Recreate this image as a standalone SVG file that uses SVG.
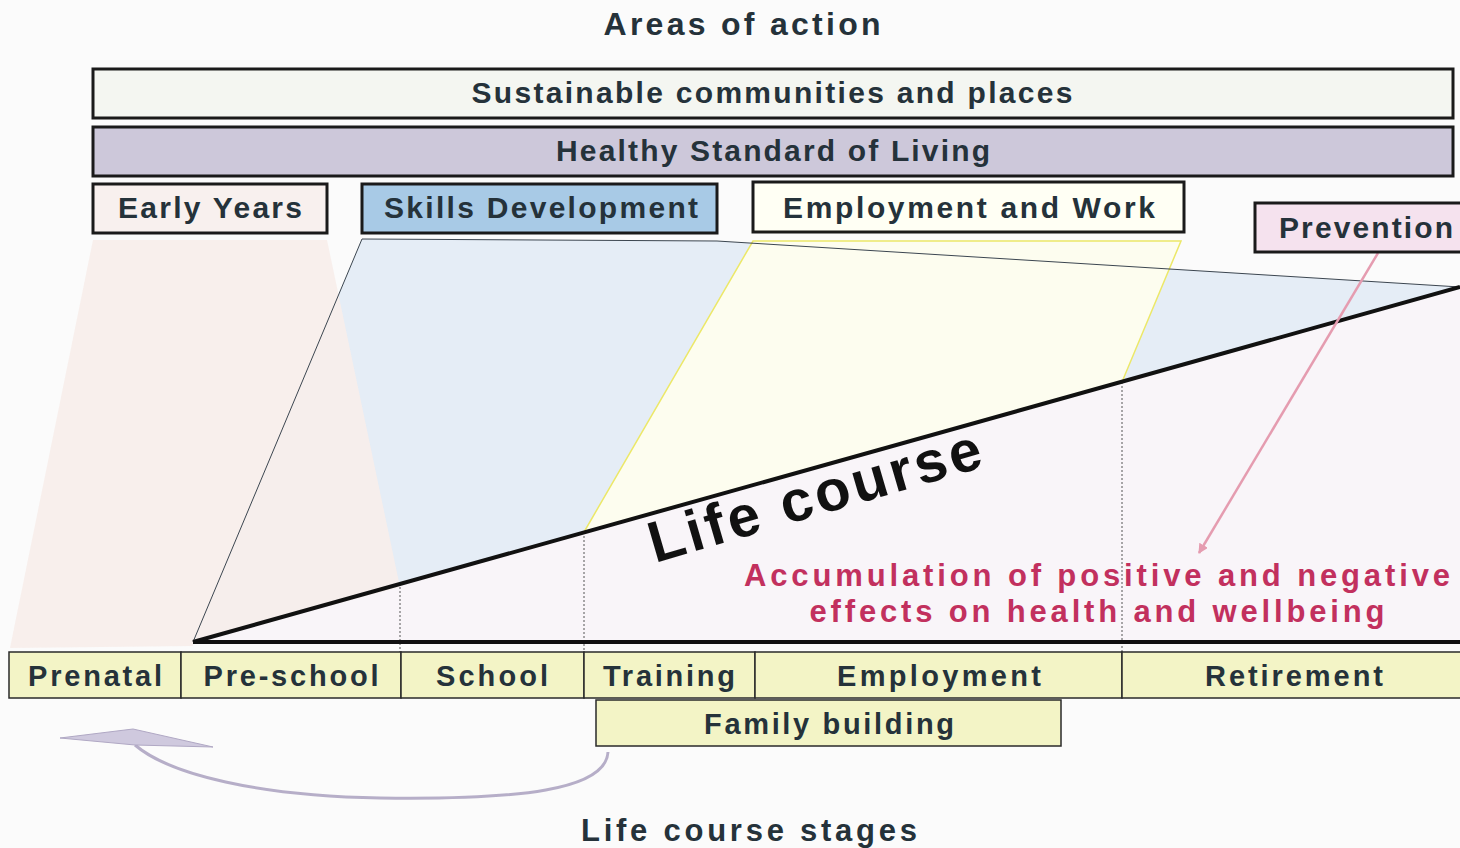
<svg xmlns="http://www.w3.org/2000/svg" width="1460" height="848" viewBox="0 0 1460 848">
<style>
.t{font-family:"Liberation Sans",Arial,sans-serif;font-weight:bold;fill:#25323a}
.box{stroke:#1a1a1a;stroke-width:3}
.stage{fill:#f3f4c6;stroke:#2a2a2a;stroke-width:1.5}
.dot{stroke:#555;stroke-width:1;stroke-dasharray:2 2}
.red{font-family:"Liberation Sans",Arial,sans-serif;font-weight:bold;fill:#c2305e}
</style>
<defs>
<marker id="pa" markerWidth="12" markerHeight="12" refX="9" refY="5" orient="auto" markerUnits="userSpaceOnUse">
<path d="M0,0 L10,5 L0,10 z" fill="#e59cb0"/>
</marker>
</defs>
<rect width="1460" height="848" fill="#fbfbfb"/>
<g id="areas-bg">
<polygon points="193,642 1460,287 1460,642" fill="#f9f5f9"/>
<polygon points="193,642 362,239 717,241 1460,287" fill="#e5edf6"/>
<polygon points="93,240 327,240 400,587 193,642 193,646 10,648" fill="#f7eeea" fill-opacity="0.92"/>
<polygon points="753,241 1181,241 1122,382 584,532" fill="#fdfdef" stroke="#ece868" stroke-width="1.5"/>
<polyline points="193,642 362,239 717,241 1460,287" fill="none" stroke="#3c4650" stroke-width="1"/>
</g>
<g id="connectors">
<line class="dot" x1="400" y1="587" x2="400" y2="652"/>
<line class="dot" x1="584" y1="532" x2="584" y2="652"/>
<line class="dot" x1="1122" y1="382" x2="1122" y2="652"/>
<line x1="193" y1="642" x2="1460" y2="287" stroke="#111" stroke-width="4"/>
<line x1="193" y1="642" x2="1460" y2="642" stroke="#111" stroke-width="4"/>
<line x1="1378" y1="253" x2="1199" y2="553" stroke="#e59cb0" stroke-width="2.5" marker-end="url(#pa)"/>
<path d="M608,752 C606,790 520,800 380,798 C260,796 170,775 135,745" fill="none" stroke="#b6aec8" stroke-width="3"/>
<polygon points="60,738 133,729 213,747 135,745" fill="#cfc9de" stroke="#b0a8c4" stroke-width="1"/>
</g>
<text class="t" x="742" y="35" text-anchor="middle" font-size="32" textLength="277">Areas of action</text>
<g id="sustainable">
<rect class="box" x="93" y="69" width="1360" height="49" fill="#f4f6f1"/>
<text class="t" x="772" y="103" text-anchor="middle" font-size="30" textLength="601">Sustainable communities and places</text>
</g>
<g id="healthy">
<rect class="box" x="93" y="127" width="1360" height="49" fill="#cdc8da"/>
<text class="t" x="773" y="161" text-anchor="middle" font-size="30" textLength="434">Healthy Standard of Living</text>
</g>
<g id="early-years">
<rect class="box" x="93" y="184" width="234" height="49" fill="#f8f0ee"/>
<text class="t" x="210" y="218" text-anchor="middle" font-size="30" textLength="184">Early Years</text>
</g>
<g id="skills">
<rect class="box" x="362" y="184" width="355" height="49" fill="#a8cae6"/>
<text class="t" x="541" y="218" text-anchor="middle" font-size="30" textLength="314">Skills Development</text>
</g>
<g id="employment-work">
<rect class="box" x="753" y="182" width="431" height="50" fill="#fffff4"/>
<text class="t" x="969" y="218" text-anchor="middle" font-size="30" textLength="372">Employment and Work</text>
</g>
<g id="prevention">
<rect class="box" x="1255" y="203" width="210" height="49" fill="#f5e2ee"/>
<text class="t" x="1366" y="238" text-anchor="middle" font-size="30" textLength="174">Prevention</text>
</g>
<g id="life-course">
<text x="655" y="563" font-family="'Liberation Sans',Arial,sans-serif" font-weight="bold" font-size="58" fill="#111" textLength="344" transform="rotate(-16.3 655 563)">Life course</text>
</g>
<g id="accumulation">
<text class="red" x="1097" y="586" text-anchor="middle" font-size="31" textLength="706">Accumulation of positive and negative</text>
<text class="red" x="1097" y="622" text-anchor="middle" font-size="31" textLength="575">effects on health and wellbeing</text>
</g>
<g id="prenatal"><rect class="stage" x="9" y="652" width="172" height="46"/><text class="t" x="95" y="686" text-anchor="middle" font-size="29" textLength="134">Prenatal</text></g>
<g id="pre-school"><rect class="stage" x="181" y="652" width="220" height="46"/><text class="t" x="291" y="686" text-anchor="middle" font-size="29" textLength="175">Pre-school</text></g>
<g id="school"><rect class="stage" x="401" y="652" width="183" height="46"/><text class="t" x="492" y="686" text-anchor="middle" font-size="29" textLength="112">School</text></g>
<g id="training"><rect class="stage" x="584" y="652" width="171" height="46"/><text class="t" x="669" y="686" text-anchor="middle" font-size="29" textLength="132">Training</text></g>
<g id="employment"><rect class="stage" x="755" y="652" width="367" height="46"/><text class="t" x="939" y="686" text-anchor="middle" font-size="29" textLength="204">Employment</text></g>
<g id="retirement"><rect class="stage" x="1122" y="652" width="345" height="46"/><text class="t" x="1294" y="686" text-anchor="middle" font-size="29" textLength="178">Retirement</text></g>
<g id="family-building"><rect class="stage" x="596" y="700" width="465" height="46"/><text class="t" x="829" y="734" text-anchor="middle" font-size="29" textLength="250">Family building</text></g>
<text class="t" x="749" y="841" text-anchor="middle" font-size="31" textLength="336">Life course stages</text>
</svg>
